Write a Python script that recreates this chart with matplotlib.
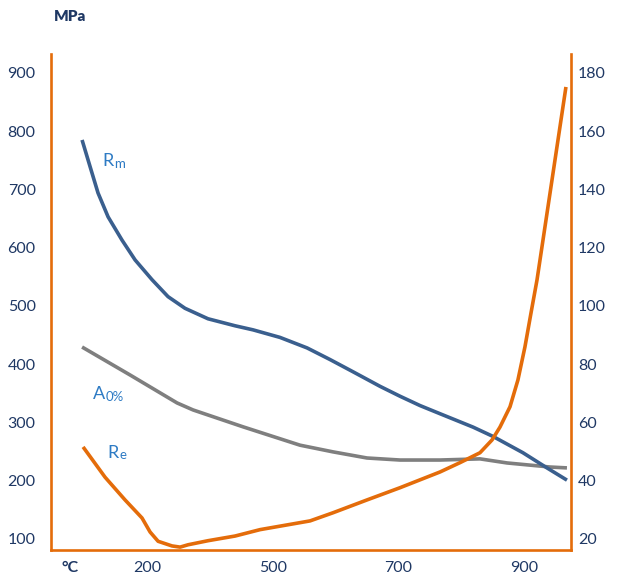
import matplotlib.pyplot as plt

plt.rcParams['font.family'] = ['Lato', 'DejaVu Sans']

navy = '#1F3864'
orange = '#E46C0A'
blue = '#3A5F8E'
grey = '#7F7F7F'
label_blue = '#2E7BC4'

# x axis: evenly spaced temperature steps (1 = 200, 2 = 500, 3 = 700, 4 = 900)
temp_ticks = [0.387, 1, 2, 3, 4]
temp_labels = ['°C', '200', '500', '700', '900']

# Rm, MPa (left axis)
rm_x = [0.483, 0.547, 0.610, 0.690, 0.801, 0.905, 1.040, 1.167, 1.302, 1.485,
        1.700, 1.843, 2.058, 2.273, 2.456, 2.639, 2.854, 3.013, 3.172, 3.331,
        3.594, 3.753, 3.991, 4.182, 4.341]
rm_y = [785, 739, 694, 653, 613, 579, 545, 516, 496, 478,
        466, 459, 446, 428, 408, 387, 362, 345, 329, 315,
        292, 276, 248, 222, 201]

# A0%, right axis units
a_x = [0.483, 0.865, 1.239, 1.366, 1.764, 2.217, 2.480, 2.750, 3.013, 3.331,
       3.649, 3.864, 4.206, 4.341]
a_y = [85.9, 76.3, 66.7, 64.3, 58.5, 52.2, 49.9, 47.8, 47.1, 47.1,
       47.5, 46.1, 44.7, 44.4]

# Re, MPa (left axis)
re_x = [0.491, 0.666, 0.825, 0.960, 1.024, 1.088, 1.199, 1.263, 1.326, 1.485,
        1.700, 1.899, 2.297, 2.480, 2.750, 3.013, 3.331, 3.490, 3.649, 3.745,
        3.808, 3.888, 3.951, 4.007, 4.055, 4.103, 4.333]
re_y = [258, 206, 167, 136, 112, 96, 88, 86, 90, 97,
        105, 116, 131, 145, 167, 188, 215, 231, 248, 270,
        292, 327, 373, 430, 488, 545, 876]

fig = plt.figure(figsize=(6.17, 5.78), dpi=100)
ax = fig.add_axes([0.0827, 0.0484, 0.8427, 0.8582])
ax2 = ax.twinx()

ax2.plot(a_x, a_y, color=grey, lw=2.6, solid_capstyle='butt', zorder=2)
ax.plot(rm_x, rm_y, color=blue, lw=2.6, solid_capstyle='butt', zorder=3)
ax.plot(re_x, re_y, color=orange, lw=2.6, solid_capstyle='butt', zorder=4)
ax.set_zorder(ax2.get_zorder() + 1)
ax.patch.set_visible(False)

ax.set_xlim(0.236, 4.373)
ax.set_ylim(81, 932.6)
ax2.set_ylim(81 / 5, 932.6 / 5)

ax.set_yticks(range(100, 901, 100))
ax2.set_yticks(range(20, 181, 20))
ax.set_xticks(temp_ticks)
ax.set_xticklabels(temp_labels)
ax.get_xticklabels()[0].set_fontweight('bold')

ax.tick_params(axis='y', length=0, pad=11, labelsize=11.5, labelcolor=navy)
ax.tick_params(axis='x', length=0, pad=8, labelsize=11.5, labelcolor=navy)
ax2.tick_params(axis='y', length=0, pad=5, labelsize=11.5, labelcolor=navy)

for a in (ax, ax2):
    for s in a.spines.values():
        s.set_visible(False)
for name in ('left', 'bottom'):
    ax.spines[name].set_visible(True)
    ax.spines[name].set_color(orange)
    ax.spines[name].set_linewidth(1.9)
ax2.spines['right'].set_visible(True)
ax2.spines['right'].set_color(orange)
ax2.spines['right'].set_linewidth(1.9)

fig.text(0.113, 0.972, 'MPa', ha='center', va='center', fontsize=11,
         fontweight='heavy', color=navy)

# curve labels: big letter followed by a smaller suffix
for big, small, x, y in [('R', 'm', 0.642, 740), ('A', '0%', 0.570, 340),
                         ('R', 'e', 0.682, 239)]:
    t = ax.text(x, y, big, fontsize=13, color=label_blue, va='baseline')
    ax.annotate(small, xy=(1, 0), xycoords=t, va='bottom', fontsize=9.5,
                color=label_blue, xytext=(0.5, -0.3), textcoords='offset points')

fig.savefig('out.png', dpi=100)
